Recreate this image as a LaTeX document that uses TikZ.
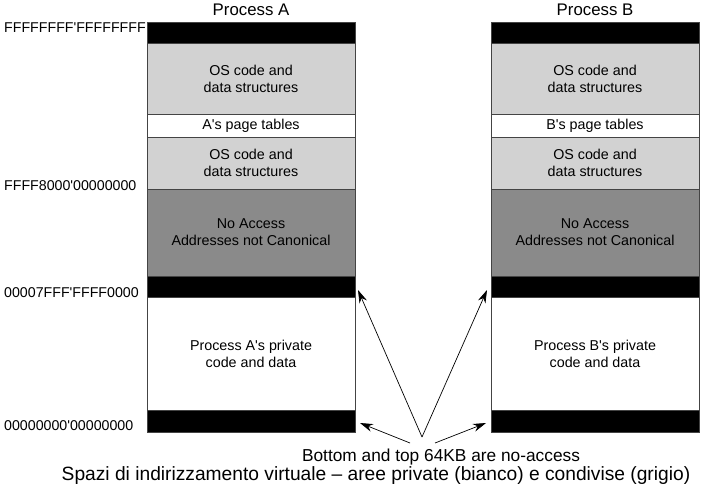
\documentclass[tikz,border=0pt]{standalone}
\usepackage{fontspec}
\setmainfont{Liberation Sans}
\usetikzlibrary{arrows.meta}
\definecolor{lgray}{HTML}{D2D2D2}
\definecolor{dgray}{HTML}{8A8A8A}
\definecolor{edge}{HTML}{444444}
\newcommand\aq{\textquotesingle}
\begin{document}
\begin{tikzpicture}[x=1pt,y=-1pt,
  blk/.style={draw=edge,line width=0.7pt,minimum width=208pt,inner sep=0pt,outer sep=0pt,anchor=north west,
    font=\fontsize{14.3}{17}\selectfont,align=center},
  noacc/.style={blk,fill=black},
  shared/.style={blk,fill=lgray},
  priv/.style={blk,fill=white},
  none/.style={blk,fill=dgray},
  addr/.style={anchor=west,inner sep=0pt,font=\fontsize{14.2}{17}\selectfont},
  ttl/.style={inner sep=0pt,font=\fontsize{16.8}{20}\selectfont},
  arr/.style={-{Stealth[length=13pt,width=8pt]},line width=0.7pt}]
\useasboundingbox (0,0) rectangle (715,491);
\foreach \c/\x/\L in {A/147/A,B/491/B}{
  \node[noacc,minimum height=21pt] (\c top) at (\x,22) {};
  \node[shared,minimum height=71pt] (\c os1) at (\x,43) {OS code and\\data structures};
  \node[priv,minimum height=23pt] (\c pt) at (\x,114) {\L\aq s page tables};
  \node[shared,minimum height=52pt] (\c os2) at (\x,137) {OS code and\\data structures};
  \node[none,minimum height=87pt] (\c na) at (\x,189) {No Access\\Addresses not Canonical};
  \node[noacc,minimum height=21pt] (\c hi) at (\x,276) {};
  \node[priv,minimum height=113pt] (\c pr) at (\x,297) {Process \L\aq s private\\code and data};
  \node[noacc,minimum height=22pt] (\c lo) at (\x,410) {};
  \node[ttl] (\c title) at (\x+104,10) {Process \L};
}
\node[addr] (a1) at (4,28) {FFFFFFFF\aq FFFFFFFF};
\node[addr] (a2) at (4,186) {FFFF8000\aq 00000000};
\node[addr] (a3) at (4,293) {00007FFF\aq FFFF0000};
\node[addr] (a4) at (4,426) {00000000\aq 00000000};
\node[inner sep=0pt,font=\fontsize{17.3}{20}\selectfont] (note) at (441,457) {Bottom and top 64KB are no-access};
\node[inner sep=0pt,font=\fontsize{19.2}{22}\selectfont] (cap) at (376,476) {Spazi di indirizzamento virtuale – aree private (bianco) e condivise (grigio)};
\coordinate (s1) at (422,437);
\coordinate (s2) at (410,443);
\coordinate (s3) at (435,443);
\coordinate (tA) at (358,290);
\coordinate (tB) at (487,290);
\coordinate (bA) at (360,423);
\coordinate (bB) at (486,423);
\draw[arr] (s1) -- (tA);
\draw[arr] (s1) -- (tB);
\draw[arr] (s2) -- (bA);
\draw[arr] (s3) -- (bB);
\end{tikzpicture}
\end{document}
